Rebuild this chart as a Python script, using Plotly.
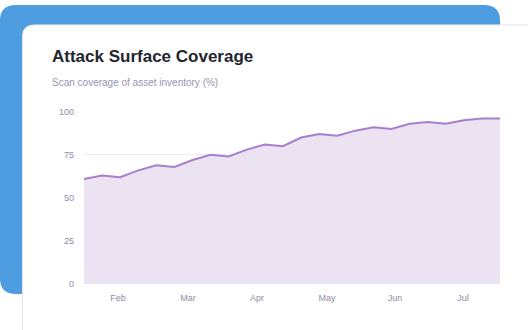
import plotly.graph_objects as go

# ---- data ----
week_index = list(range(24))
coverage = [61, 63, 62, 66, 69, 68, 72, 75, 74, 78, 81, 80,
            85, 87, 86, 89, 91, 90, 93, 94, 93, 95, 96, 96]
month_tick_pos = [1.88, 5.75, 9.56, 13.43, 17.19, 20.95]
month_labels = ["Feb", "Mar", "Apr", "May", "Jun", "Jul"]
y_ticks = [0, 25, 50, 75, 100]

W, H = 528, 330

def px(x):
    return x / W

def py(y):
    return 1 - y / H

def rounded_path(x0, y0, x1, y1, r):
    def P(x, y):
        return f"{px(x):.5f},{py(y):.5f}"
    return (f"M{P(x0 + r, y0)} L{P(x1 - r, y0)} Q{P(x1, y0)} {P(x1, y0 + r)} "
            f"L{P(x1, y1 - r)} Q{P(x1, y1)} {P(x1 - r, y1)} "
            f"L{P(x0 + r, y1)} Q{P(x0, y1)} {P(x0, y1 - r)} "
            f"L{P(x0, y0 + r)} Q{P(x0, y0)} {P(x0 + r, y0)} Z")

fig = go.Figure()
fig.add_trace(go.Scatter(
    x=week_index, y=coverage, mode="lines",
    line=dict(color="#a77fcf", width=2),
    fill="tozeroy", fillcolor="#ebe2f2",
    hoverinfo="skip",
))

shapes = [
    dict(type="path", xref="paper", yref="paper", layer="below",
         path=rounded_path(0, 0, 500, 298, 16),
         fillcolor="#4e9de0", line=dict(width=0)),
    dict(type="path", xref="paper", yref="paper", layer="below",
         path=rounded_path(22.5, 20.5, 560, 360, 12),
         fillcolor="#ffffff", line=dict(color="#e2e2ee", width=1)),
]

annotations = [
    dict(text="<b>Attack Surface Coverage</b>", x=px(50), y=py(53),
         xref="paper", yref="paper", xanchor="left", yanchor="middle",
         showarrow=False,
         font=dict(family="Liberation Sans, Arial, sans-serif", size=17, color="#23252f")),
    dict(text="Scan coverage of asset inventory (%)", x=px(50), y=py(79.5),
         xref="paper", yref="paper", xanchor="left", yanchor="middle",
         showarrow=False,
         font=dict(family="Liberation Sans, Arial, sans-serif", size=10, color="#9795b0")),
]

fig.update_layout(
    width=W, height=H,
    margin=dict(l=0, r=0, t=0, b=0),
    paper_bgcolor="#ffffff",
    plot_bgcolor="rgba(0,0,0,0)",
    showlegend=False,
    shapes=shapes,
    annotations=annotations,
    font=dict(family="Liberation Sans, Arial, sans-serif", color="#8e8ca6", size=9),
    xaxis=dict(
        domain=[px(84), px(500)],
        range=[0, 23],
        tickvals=month_tick_pos, ticktext=month_labels,
        showgrid=False, zeroline=False, showline=False,
        ticks="", ticklabelstandoff=7,
        tickfont=dict(size=9, color="#8e8ca6"),
    ),
    yaxis=dict(
        domain=[py(288), py(110)],
        range=[0, 100],
        tickvals=y_ticks,
        showgrid=True, gridcolor="#ececf1", gridwidth=1,
        zeroline=False, showline=False,
        ticks="", ticklabelstandoff=9,
        tickfont=dict(size=9, color="#8e8ca6"),
    ),
)

fig.write_html("out.html")
